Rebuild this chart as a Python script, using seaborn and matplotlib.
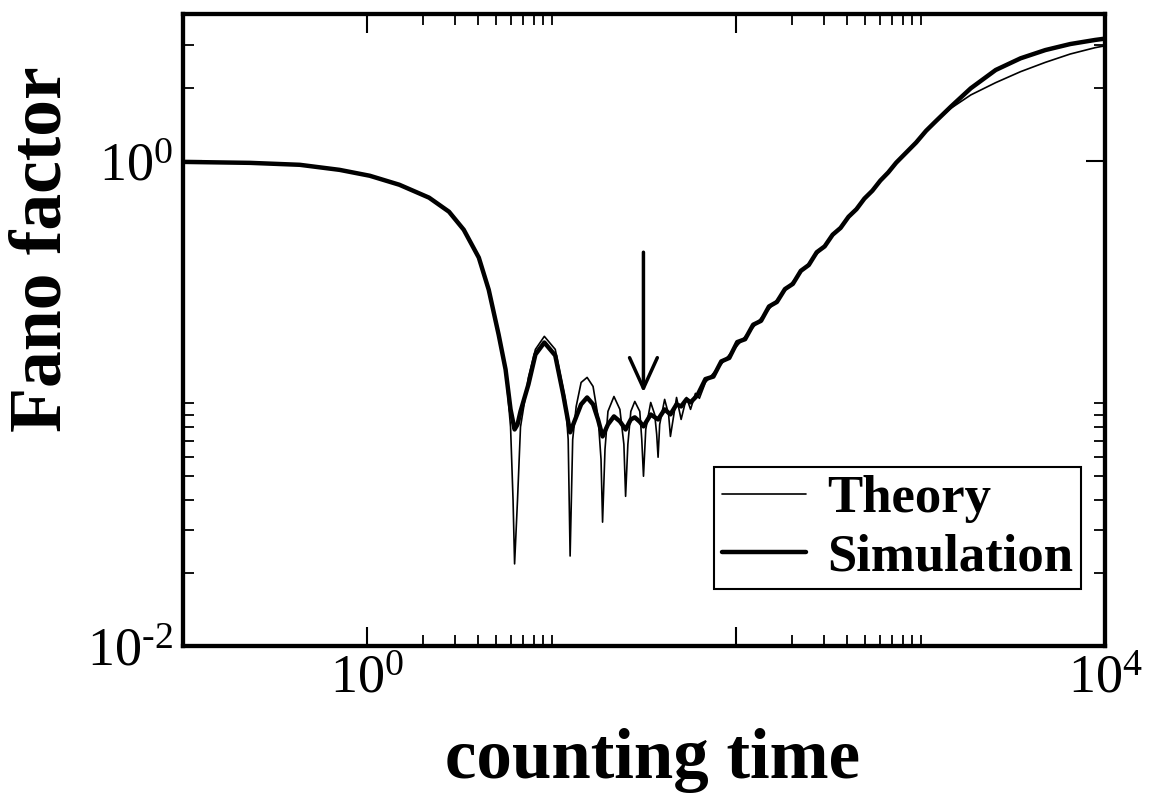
import matplotlib
matplotlib.use("Agg")
import matplotlib.pyplot as plt
import seaborn as sns
import pandas as pd
from matplotlib.ticker import FixedLocator, FixedFormatter, NullFormatter

# ---------------- data ----------------
theory_t = [0.1, 0.231, 0.43, 0.706, 1.03, 1.49, 2.16, 2.77, 3.33, 4.02, 4.55, 5.15,
            5.615, 5.975, 6.164, 6.283, 6.517, 6.765, 7.47, 8.15, 9.11, 10.44, 11.83,
            12.27, 12.57, 12.98, 13.56, 14.42, 15.54, 16.74, 17.81, 18.49, 18.85, 19.43,
            20.16, 21.73, 23.40, 24.60, 25.13, 25.85, 26.83, 28.19, 30.00, 30.75, 31.42,
            32.32, 34.39, 36.14, 37.05, 37.70, 38.46, 40.92, 42.99, 43.98, 47.48, 50.27,
            53.76, 56.55, 60.12, 63.16, 68.1, 101.3, 166.3, 273.4, 449.0, 737.6, 946.0,
            1071.0, 1213.0, 1460.0, 1871.0, 2555.0, 3483.0, 4750.0, 6475.0, 8832.0, 10000.0]
theory_f = [0.99, 0.981, 0.963, 0.918, 0.868, 0.797, 0.705, 0.617, 0.520, 0.399, 0.294, 0.192,
            0.138, 0.080, 0.040, 0.0218, 0.040, 0.080, 0.128, 0.167, 0.189, 0.167, 0.104,
            0.071, 0.0235, 0.071, 0.0972, 0.122, 0.128, 0.1175, 0.0884, 0.0588, 0.0324, 0.0647,
            0.0927, 0.1068, 0.0945, 0.0678, 0.0414, 0.0678, 0.0927, 0.1019, 0.0927, 0.0711, 0.0501,
            0.0781, 0.1009, 0.0901, 0.0746, 0.060, 0.0819, 0.1039, 0.0901, 0.0731, 0.1058, 0.0859,
            0.1058, 0.0945, 0.110, 0.105, 0.122, 0.173, 0.267, 0.412, 0.636, 0.981, 1.19,
            1.33, 1.46, 1.647, 1.869, 2.101, 2.331, 2.547, 2.756, 2.927, 2.98]

sim_t = [0.1, 0.231, 0.43, 0.706, 1.03, 1.49, 2.16, 2.77, 3.33, 4.02, 4.55, 5.15,
         5.615, 5.975, 6.283, 6.517, 6.765, 7.47, 8.15, 9.11, 10.44, 11.53, 12.57,
         13.39, 14.42, 15.54, 16.74, 17.81, 18.85, 20.16, 21.73, 23.40, 25.13, 26.83,
         28.19, 30.00, 31.42, 34.39, 37.70, 40.92, 43.98, 47.48, 50.27, 53.76, 56.55,
         61.6, 68.1, 75.2, 83.0, 91.7, 101.3, 111.8, 123.5, 136.4, 150.6, 166.3, 183.8,
         202.9, 224.1, 247.5, 273.4, 301.8, 333.4, 368.1, 406.6, 449.0, 495.8, 547.5,
         604.8, 667.9, 737.6, 946.0, 1071.0, 1213.0, 1460.0, 1871.0, 2555.0,
         3483.0, 4750.0, 6475.0, 8832.0, 10000.0]
sim_f = [0.99, 0.981, 0.963, 0.918, 0.868, 0.797, 0.705, 0.617, 0.520, 0.399, 0.294, 0.192,
         0.138, 0.0945, 0.0781, 0.0819, 0.0927, 0.1198, 0.1591, 0.1783, 0.1576, 0.1089, 0.076,
         0.0859, 0.0991, 0.1058, 0.0991, 0.0859, 0.0731, 0.0819, 0.0884, 0.0843, 0.0781, 0.0859,
         0.0876, 0.084, 0.0804, 0.090, 0.0859, 0.0945, 0.0901, 0.0991, 0.0972, 0.104, 0.101,
         0.108, 0.126, 0.129, 0.149, 0.154, 0.179, 0.184, 0.211, 0.219, 0.251, 0.262, 0.296,
         0.311, 0.352, 0.372, 0.420, 0.444, 0.496, 0.529, 0.588, 0.632, 0.699, 0.753,
         0.829, 0.896, 0.983, 1.19, 1.33, 1.46, 1.673, 1.991, 2.369,
         2.646, 2.862, 3.03, 3.15, 3.19]

x_major = [1, 100, 10000]
x_major_labels = [r"$10^{0}$", "", r"$10^{4}$"]
x_minor = [2, 3, 4, 5, 6, 7, 8, 9, 10, 200, 300, 400, 500, 600, 700, 800, 900, 1000]
y_major = [0.01, 1]
y_major_labels = ["$10^{\u20102}$", r"$10^{0}$"]
y_minor = [0.02, 0.03, 0.04, 0.05, 0.06, 0.07, 0.08, 0.09, 0.1, 2, 3]

series_labels = ["Theory", "Simulation"]
x_title = "counting time"
y_title = "Fano factor"

arrow_t = 31.4
arrow_f_start = 0.42
arrow_f_end = 0.111

# ---------------- styling ----------------
sns.set_theme(style="ticks")
plt.rcParams.update({
    "font.family": ["Liberation Serif", "DejaVu Serif"],
    "mathtext.fontset": "custom",
    "mathtext.rm": "Liberation Serif",
    "mathtext.default": "regular",
    "axes.unicode_minus": False,
    "text.color": "black",
    "axes.labelcolor": "black",
    "xtick.color": "black",
    "ytick.color": "black",
})

fig = plt.figure(figsize=(11.54, 7.93), dpi=100)
fig.patch.set_facecolor("white")
ax = fig.add_axes([183 / 1154, 1 - 646 / 793, (1105 - 183) / 1154, (646 - 14) / 793])
ax.set_facecolor("white")

sim_df = pd.DataFrame({"t": sim_t, "F": sim_f})
th_df = pd.DataFrame({"t": theory_t, "F": theory_f})

sns.lineplot(data=sim_df, x="t", y="F", sort=False, estimator=None, color="black",
             linewidth=3.2, ax=ax, label=series_labels[1])
sns.lineplot(data=th_df, x="t", y="F", sort=False, estimator=None, color="black",
             linewidth=1.2, ax=ax, label=series_labels[0])

ax.set_xscale("log")
ax.set_yscale("log")
ax.set_xlim(0.1, 10000)
ax.set_ylim(0.01, 4.03)

ax.xaxis.set_major_locator(FixedLocator(x_major))
ax.xaxis.set_major_formatter(FixedFormatter(x_major_labels))
ax.xaxis.set_minor_locator(FixedLocator(x_minor))
ax.xaxis.set_minor_formatter(NullFormatter())
ax.yaxis.set_major_locator(FixedLocator(y_major))
ax.yaxis.set_major_formatter(FixedFormatter(y_major_labels))
ax.yaxis.set_minor_locator(FixedLocator(y_minor))
ax.yaxis.set_minor_formatter(NullFormatter())

for sp in ax.spines.values():
    sp.set_visible(True)
    sp.set_linewidth(3.1)
    sp.set_color("black")

ax.tick_params(which="both", direction="in", top=True, right=True, colors="black")
ax.tick_params(which="major", length=14, width=1.5, labelsize=39)
ax.tick_params(which="minor", length=8, width=1.3)
ax.tick_params(axis="x", which="major", pad=6)
ax.tick_params(axis="y", which="major", pad=7)

ax.set_xlabel(x_title, fontsize=51, fontweight="bold", color="black")
ax.set_ylabel(y_title, fontsize=53, fontweight="bold", color="black")
ax.xaxis.set_label_coords(0.509, -0.13)
ax.yaxis.set_label_coords(-0.115, 0.628)

ax.annotate("", xy=(arrow_t, arrow_f_end), xytext=(arrow_t, arrow_f_start),
            arrowprops=dict(arrowstyle="->,head_length=1.1,head_width=0.5",
                            lw=2.5, color="black", shrinkA=0, shrinkB=0,
                            mutation_scale=20))

lines = ax.get_lines()
handles = [lines[1], lines[0]]
leg = ax.legend(handles=handles, labels=series_labels, loc="upper right",
                bbox_to_anchor=(0.974, 0.283), borderaxespad=0,
                prop={"family": "Liberation Serif", "weight": "bold", "size": 38},
                frameon=True, fancybox=False, edgecolor="black", framealpha=1,
                handlelength=1.6, handletextpad=0.4, labelspacing=0.19,
                borderpad=0.15, labelcolor="black")
leg.get_frame().set_linewidth(1.5)

fig.savefig("out.png", dpi=100, facecolor="white")
